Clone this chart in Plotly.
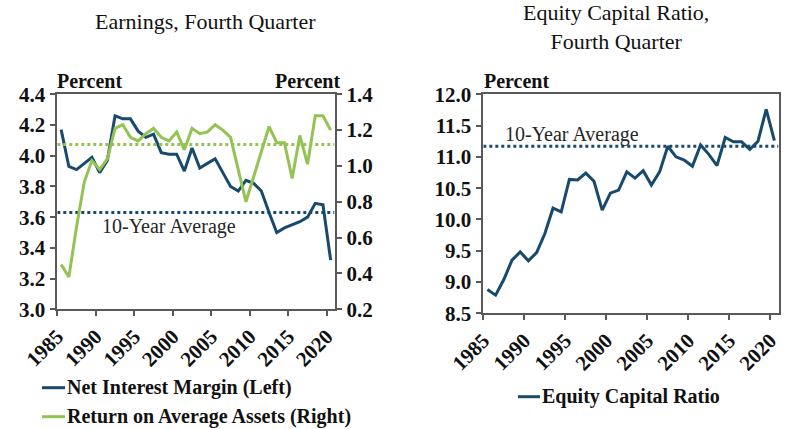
import plotly.graph_objects as go

years = list(range(1985, 2021))
nim = [4.17, 3.93, 3.91, 3.95, 3.99, 3.89, 3.97, 4.26, 4.24, 4.24,
       4.16, 4.12, 4.14, 4.02, 4.01, 4.01, 3.90, 4.05, 3.92, 3.95,
       3.98, 3.89, 3.80, 3.77, 3.84, 3.82, 3.77, 3.63, 3.50, 3.53,
       3.55, 3.57, 3.60, 3.69, 3.68, 3.32]
roa = [0.45, 0.38, 0.66, 0.91, 1.03, 0.98, 1.04, 1.21, 1.23, 1.16,
       1.14, 1.18, 1.21, 1.16, 1.14, 1.19, 1.09, 1.21, 1.18, 1.19,
       1.23, 1.20, 1.16, 0.98, 0.80, 0.94, 1.08, 1.22, 1.13, 1.13,
       0.93, 1.17, 1.01, 1.28, 1.28, 1.20]
equity = [8.88, 8.79, 9.04, 9.35, 9.48, 9.34, 9.47, 9.77, 10.18, 10.12,
          10.64, 10.63, 10.74, 10.61, 10.15, 10.42, 10.47, 10.76, 10.66, 10.78,
          10.55, 10.76, 11.17, 11.00, 10.95, 10.85, 11.19, 11.04, 10.86, 11.31,
          11.24, 11.24, 11.12, 11.25, 11.76, 11.26]
nim_avg = 3.63
roa_avg = 1.12
equity_avg = 11.17
tick_years = [1985, 1990, 1995, 2000, 2005, 2010, 2015, 2020]

BLUE = "#174a6c"
GREEN = "#92c353"
AXIS = "#595959"
FONT = "Liberation Serif"
W, H = 789, 429

def px(x):
    return x / W

def py(y):
    return 1 - y / H

fig = go.Figure()

xr = [years[0] - 0.5, years[-1] + 0.5]

# Left chart
fig.add_trace(go.Scatter(x=xr, y=[nim_avg, nim_avg], mode="lines",
                         line=dict(color=BLUE, width=3, dash="dot"),
                         xaxis="x", yaxis="y", showlegend=False, hoverinfo="skip"))
fig.add_trace(go.Scatter(x=xr, y=[roa_avg, roa_avg], mode="lines",
                         line=dict(color=GREEN, width=3, dash="dot"),
                         xaxis="x", yaxis="y2", showlegend=False, hoverinfo="skip"))
fig.add_trace(go.Scatter(x=years, y=roa, mode="lines", name="Return on Average Assets (Right)",
                         line=dict(color=GREEN, width=3), xaxis="x", yaxis="y2", showlegend=False))
fig.add_trace(go.Scatter(x=years, y=nim, mode="lines", name="Net Interest Margin (Left)",
                         line=dict(color=BLUE, width=3), xaxis="x", yaxis="y", showlegend=False))

# Right chart
fig.add_trace(go.Scatter(x=xr, y=[equity_avg, equity_avg], mode="lines",
                         line=dict(color=BLUE, width=3, dash="dot"),
                         xaxis="x3", yaxis="y3", showlegend=False, hoverinfo="skip"))
fig.add_trace(go.Scatter(x=years, y=equity, mode="lines", name="Equity Capital Ratio",
                         line=dict(color=BLUE, width=3), xaxis="x3", yaxis="y3", showlegend=False))

tickfont = dict(family=FONT, size=21, color="#111111", weight="bold")
tick_pos = [t - 0.5 for t in tick_years]
tick_txt = [str(t) for t in tick_years]

xcommon = dict(range=xr, tickvals=tick_pos, ticktext=tick_txt, tickangle=-45,
               ticks="outside", ticklen=5, tickcolor=AXIS, tickwidth=1.5,
               showline=True, linecolor=AXIS, linewidth=1.5, mirror=True,
               showgrid=False, zeroline=False, tickfont=tickfont, automargin=False)
ycommon = dict(ticks="outside", ticklen=6, tickcolor=AXIS, tickwidth=1.5,
               showline=True, linecolor=AXIS, linewidth=1.5,
               showgrid=False, zeroline=False, tickfont=tickfont, tickformat=".1f",
               automargin=False)

fig.update_layout(
    width=W, height=H,
    margin=dict(l=0, r=0, t=0, b=0),
    paper_bgcolor="white", plot_bgcolor="white",
    xaxis=dict(domain=[px(57.3), px(334.5)], anchor="y", **xcommon),
    yaxis=dict(domain=[py(309.3), py(94.3)], anchor="x", range=[3.0, 4.4], dtick=0.2, **ycommon),
    yaxis2=dict(overlaying="y", side="right", anchor="x", range=[0.2, 1.4], dtick=0.2, **ycommon),
    xaxis3=dict(domain=[px(483.3), px(778.5)], anchor="y3", **xcommon),
    yaxis3=dict(domain=[py(313.3), py(94.3)], anchor="x3", range=[8.5, 12.0], dtick=0.5,
                mirror=True, **ycommon),
    showlegend=False,
)

ann = []
def text(x, y, s, size, bold=False, xanchor="center", yanchor="middle", color="#111111"):
    ann.append(dict(x=px(x), y=py(y), xref="paper", yref="paper", text=s, showarrow=False,
                    xanchor=xanchor, yanchor=yanchor,
                    font=dict(family=FONT, size=size, color=color,
                              weight="bold" if bold else "normal")))

text(205, 21, "Earnings, Fourth Quarter", 22)
text(616, 27, "Equity Capital Ratio,<br>Fourth Quarter", 22)
text(55, 81, "Percent", 20, bold=True, xanchor="left")
text(342, 81, "Percent", 20, bold=True, xanchor="right")
text(482, 81, "Percent", 20, bold=True, xanchor="left")
text(169, 227, "10-Year Average", 20, color="#262626")
text(572, 134, "10-Year Average", 20, color="#262626")
text(65, 387.7, "Net Interest Margin (Left)", 20, bold=True, xanchor="left")
text(65, 416.7, "Return on Average Assets (Right)", 20, bold=True, xanchor="left")
text(540, 396.7, "Equity Capital Ratio", 20, bold=True, xanchor="left")
fig.update_layout(annotations=ann)

for (x0, x1, y, c) in [(42, 65, 387.7, BLUE), (42, 65, 416.7, GREEN), (518, 540, 396.7, BLUE)]:
    fig.add_shape(type="line", xref="paper", yref="paper",
                  x0=px(x0), x1=px(x1), y0=py(y), y1=py(y),
                  line=dict(color=c, width=3))

fig.write_html("out.html", config={"displayModeBar": False},
               post_script="document.body.style.margin='0';document.body.style.padding='0';")
